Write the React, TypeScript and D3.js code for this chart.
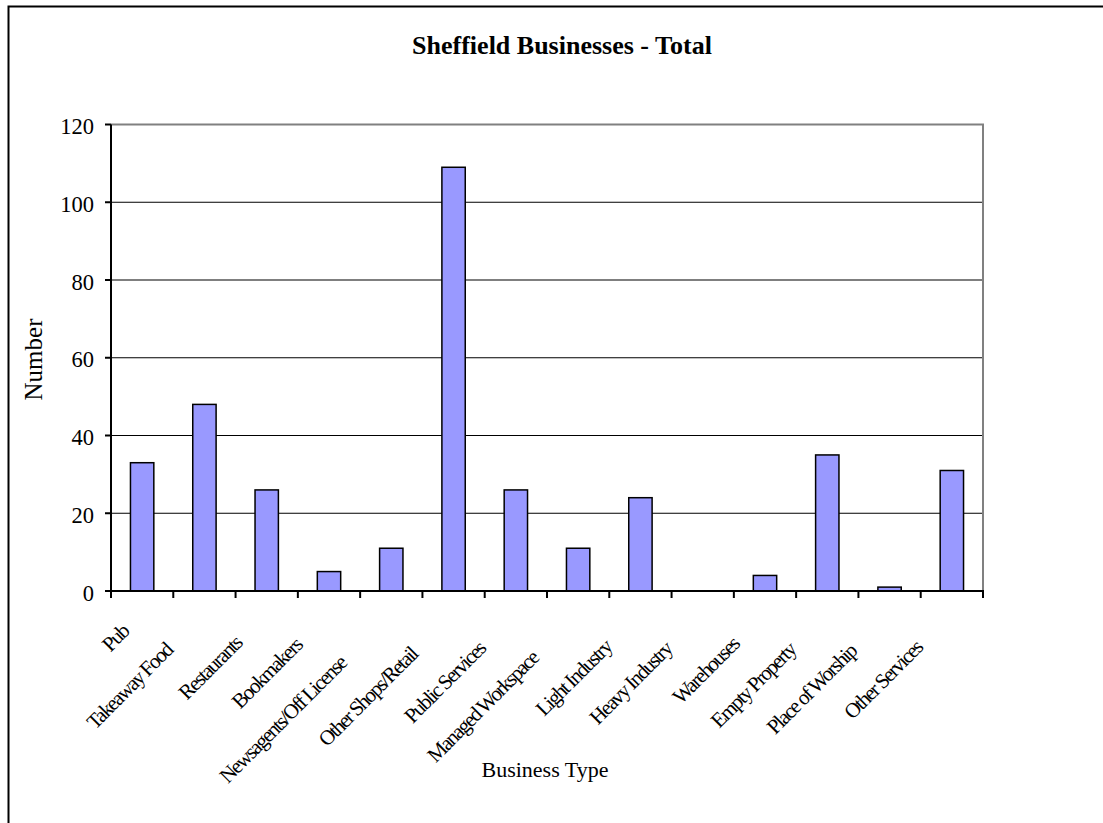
import React, { useEffect, useRef } from "react";
import * as d3 from "d3";

const categories = [
  "Pub",
  "Takeaway Food",
  "Restaurants",
  "Bookmakers",
  "Newsagents/Off License",
  "Other Shops/Retail",
  "Public Services",
  "Managed Workspace",
  "Light Industry",
  "Heavy Industry",
  "Warehouses",
  "Empty Property",
  "Place of Worship",
  "Other Services",
];
const values = [33, 48, 26, 5, 11, 109, 26, 11, 24, 0, 4, 35, 1, 31];
const yTicks = [0, 20, 40, 60, 80, 100, 120];
const title = "Sheffield Businesses - Total";
const xTitle = "Business Type";
const yTitle = "Number";

const W = 1103;
const H = 823;
const FONT = "'Liberation Serif', 'Times New Roman', serif";

export default function App() {
  const ref = useRef<SVGSVGElement | null>(null);

  useEffect(() => {
    const svg = d3.select(ref.current);
    svg.selectAll("*").remove();

    const left = 111, right = 983, top = 124.5, bottom = 591;

    const y = d3.scaleLinear().domain([0, 120]).range([bottom, top]);
    const xStep = d3.scaleBand<string>().domain(categories).range([left, right]).padding(0);
    const xBar = d3
      .scaleBand<string>()
      .domain(categories)
      .range([left, right])
      .paddingInner(0.625)
      .paddingOuter(0.3125);

    // outer border
    svg
      .append("rect")
      .attr("x", 8.5)
      .attr("y", 6.5)
      .attr("width", 1104)
      .attr("height", 824)
      .attr("fill", "white")
      .attr("stroke", "black")
      .attr("stroke-width", 2);

    // title
    svg
      .append("text")
      .attr("x", 562)
      .attr("y", 54)
      .attr("text-anchor", "middle")
      .attr("font-family", FONT)
      .attr("font-weight", "bold")
      .attr("font-size", 26)
      .text(title);

    // gridlines
    svg
      .append("g")
      .selectAll("line")
      .data(yTicks.filter((t) => t > 0 && t < 120))
      .join("line")
      .attr("x1", left)
      .attr("x2", right)
      .attr("y1", (d) => y(d))
      .attr("y2", (d) => y(d))
      .attr("stroke", "black")
      .attr("stroke-width", 1.2);

    // plot border (top & right grey)
    svg
      .append("path")
      .attr("d", `M${left},${y(120)}H${right}V${bottom}`)
      .attr("fill", "none")
      .attr("stroke", "#808080")
      .attr("stroke-width", 2);

    // bars
    svg
      .append("g")
      .selectAll("rect")
      .data(values.map((v, i) => ({ c: categories[i], v })))
      .join("rect")
      .attr("x", (d) => xBar(d.c)!)
      .attr("width", xBar.bandwidth())
      .attr("y", (d) => y(d.v))
      .attr("height", (d) => y(0) - y(d.v))
      .attr("fill", "#9999FF")
      .attr("stroke", (d) => (d.v > 0 ? "black" : "none"))
      .attr("stroke-width", 1.5);

    // y axis
    svg
      .append("line")
      .attr("x1", left)
      .attr("x2", left)
      .attr("y1", y(120))
      .attr("y2", bottom + 1)
      .attr("stroke", "black")
      .attr("stroke-width", 2);
    const yt = svg.append("g");
    yt.selectAll("line")
      .data(yTicks)
      .join("line")
      .attr("x1", left - 6)
      .attr("x2", left)
      .attr("y1", (d) => y(d))
      .attr("y2", (d) => y(d))
      .attr("stroke", "black")
      .attr("stroke-width", 2);
    yt.selectAll("text")
      .data(yTicks)
      .join("text")
      .attr("x", 94)
      .attr("y", (d) => y(d) + 9.5)
      .attr("text-anchor", "end")
      .attr("font-family", FONT)
      .attr("font-size", 22.5)
      .text((d) => String(d));

    // x axis
    svg
      .append("line")
      .attr("x1", left - 1)
      .attr("x2", right + 1)
      .attr("y1", bottom)
      .attr("y2", bottom)
      .attr("stroke", "black")
      .attr("stroke-width", 2);
    const tickXs = categories.map((c) => xStep(c)!).concat([right]);
    svg
      .append("g")
      .selectAll("line")
      .data(tickXs)
      .join("line")
      .attr("x1", (d) => d)
      .attr("x2", (d) => d)
      .attr("y1", bottom)
      .attr("y2", bottom + 7)
      .attr("stroke", "black")
      .attr("stroke-width", 2);

    // category labels
    const lg = svg.append("g");
    categories.forEach((c) => {
      const t = lg
        .append("text")
        .attr("text-anchor", "end")
        .attr("font-family", FONT)
        .attr("font-size", 21)
        .attr("letter-spacing", -1.7)
        .text(c);
      const L = (t.node() as SVGTextElement).getComputedTextLength();
      const off = 0.222 * L + 2;
      const cx = xStep(c)! + xStep.bandwidth() / 2;
      const ex = cx - off - 4;
      const ey = 625 + off;
      t.attr("transform", `translate(${ex},${ey}) rotate(-45)`);
    });

    // axis titles
    svg
      .append("text")
      .attr("x", 545)
      .attr("y", 777)
      .attr("text-anchor", "middle")
      .attr("font-family", FONT)
      .attr("font-size", 22)
      .text(xTitle);
    svg
      .append("text")
      .attr("transform", `translate(41.5,359.5) rotate(-90)`)
      .attr("text-anchor", "middle")
      .attr("font-family", FONT)
      .attr("font-size", 25)
      .text(yTitle);
  }, []);

  return (
    <svg
      ref={ref}
      width={W}
      height={H}
      style={{ position: "absolute", left: 0, top: 0, display: "block" }}
    />
  );
}
